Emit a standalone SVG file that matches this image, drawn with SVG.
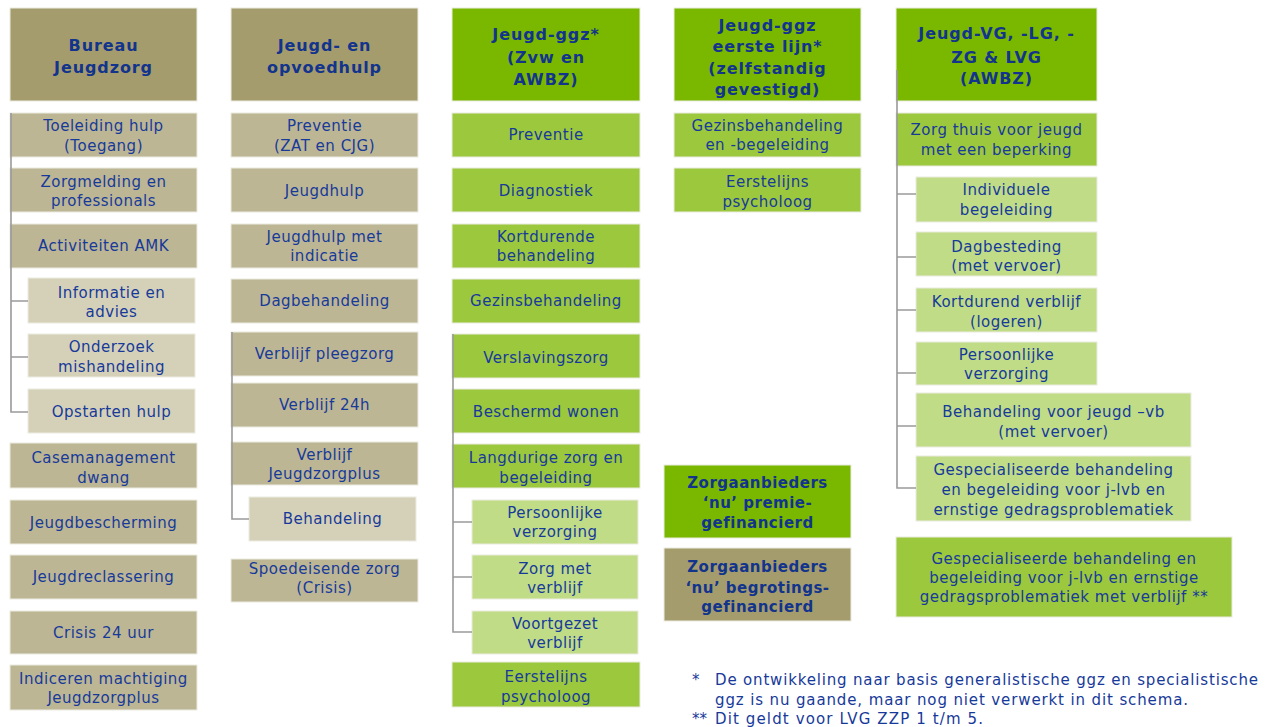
<svg xmlns="http://www.w3.org/2000/svg" width="1273" height="727" viewBox="0 0 1273 727">
<style>
text{font-family:"DejaVu Sans",Verdana,sans-serif;fill:#173a9a;text-anchor:middle;dominant-baseline:central}
.t{font-size:15px;letter-spacing:0.5px}
.h{font-size:16px;font-weight:bold;letter-spacing:0.9px;fill:#12348c}
.lb{font-size:15px;font-weight:bold;letter-spacing:0.5px;fill:#12348c}
.fn{font-size:15px;text-anchor:start}
.hk{fill:#a59c6d}.ik{fill:#bdb694}.sk{fill:#d5d1b9}
.hg{fill:#7ab800}.ig{fill:#9cc83e}.sg{fill:#c0dc87}
rect{stroke:#ecebe2;stroke-width:1}
.c{stroke:#9a9a9a;stroke-width:1.6;fill:none}
</style>
<rect width="1273" height="727" fill="#ffffff" style="stroke:none"/>

<!-- Column 1 -->
<g id="bureau-jeugdzorg"><rect class="hk" x="10" y="8" width="187" height="93"/><text class="h" x="103.5" y="45">Bureau</text><text class="h" x="103.5" y="67">Jeugdzorg</text></g>
<g id="toeleiding"><rect class="ik" x="10" y="113" width="187" height="44"/><text class="t" x="103.5" y="126">Toeleiding hulp</text><text class="t" x="103.5" y="146">(Toegang)</text></g>
<g id="zorgmelding"><rect class="ik" x="10" y="168" width="187" height="44"/><text class="t" x="103.5" y="182">Zorgmelding en</text><text class="t" x="103.5" y="201">professionals</text></g>
<g id="amk"><rect class="ik" x="10" y="224" width="187" height="44"/><text class="t" x="103.5" y="246">Activiteiten AMK</text></g>
<g id="informatie"><rect class="sk" x="28" y="278" width="167" height="45"/><text class="t" x="111.5" y="293">Informatie en</text><text class="t" x="111.5" y="312">advies</text></g>
<g id="onderzoek"><rect class="sk" x="28" y="334" width="167" height="43"/><text class="t" x="111.5" y="347">Onderzoek</text><text class="t" x="111.5" y="367">mishandeling</text></g>
<g id="opstarten"><rect class="sk" x="28" y="389" width="167" height="44"/><text class="t" x="111.5" y="412">Opstarten hulp</text></g>
<g id="casemanagement"><rect class="ik" x="10" y="443" width="187" height="45"/><text class="t" x="103.5" y="458">Casemanagement</text><text class="t" x="103.5" y="478">dwang</text></g>
<g id="jeugdbescherming"><rect class="ik" x="10" y="500" width="187" height="44"/><text class="t" x="103.5" y="523">Jeugdbescherming</text></g>
<g id="jeugdreclassering"><rect class="ik" x="10" y="555" width="187" height="44"/><text class="t" x="103.5" y="577">Jeugdreclassering</text></g>
<g id="crisis24"><rect class="ik" x="10" y="611" width="187" height="43"/><text class="t" x="103.5" y="633">Crisis 24 uur</text></g>
<g id="indiceren"><rect class="ik" x="10" y="665" width="187" height="45"/><text class="t" x="103.5" y="679">Indiceren machtiging</text><text class="t" x="103.5" y="698">Jeugdzorgplus</text></g>

<!-- Column 2 -->
<g id="jeugd-opvoedhulp"><rect class="hk" x="231" y="8" width="187" height="93"/><text class="h" x="324.5" y="45">Jeugd- en</text><text class="h" x="324.5" y="67">opvoedhulp</text></g>
<g id="preventie-zat"><rect class="ik" x="231" y="113" width="187" height="44"/><text class="t" x="324.5" y="126">Preventie</text><text class="t" x="324.5" y="146">(ZAT en CJG)</text></g>
<g id="jeugdhulp"><rect class="ik" x="231" y="168" width="187" height="44"/><text class="t" x="324.5" y="191">Jeugdhulp</text></g>
<g id="jeugdhulp-indicatie"><rect class="ik" x="231" y="224" width="187" height="44"/><text class="t" x="324.5" y="237">Jeugdhulp met</text><text class="t" x="324.5" y="256">indicatie</text></g>
<g id="dagbehandeling"><rect class="ik" x="231" y="279" width="187" height="44"/><text class="t" x="324.5" y="301">Dagbehandeling</text></g>
<g id="pleegzorg"><rect class="ik" x="231" y="332" width="187" height="44"/><text class="t" x="324.5" y="354">Verblijf pleegzorg</text></g>
<g id="verblijf24"><rect class="ik" x="231" y="383" width="187" height="44"/><text class="t" x="324.5" y="405">Verblijf 24h</text></g>
<g id="verblijf-jzp"><rect class="ik" x="231" y="442" width="187" height="43"/><text class="t" x="324.5" y="455">Verblijf</text><text class="t" x="324.5" y="474">Jeugdzorgplus</text></g>
<g id="behandeling-jzp"><rect class="sk" x="249" y="497" width="167" height="44"/><text class="t" x="332.5" y="519">Behandeling</text></g>
<g id="spoedeisend"><rect class="ik" x="231" y="559" width="187" height="43"/><text class="t" x="324.5" y="569">Spoedeisende zorg</text><text class="t" x="324.5" y="588">(Crisis)</text></g>

<!-- Column 3 -->
<g id="jeugd-ggz"><rect class="hg" x="452" y="8" width="188" height="93"/><text class="h" x="546" y="34">Jeugd-ggz*</text><text class="h" x="546" y="57">(Zvw en</text><text class="h" x="546" y="79">AWBZ)</text></g>
<g id="ggz-preventie"><rect class="ig" x="452" y="113" width="188" height="44"/><text class="t" x="546" y="135">Preventie</text></g>
<g id="diagnostiek"><rect class="ig" x="452" y="168" width="188" height="44"/><text class="t" x="546" y="191">Diagnostiek</text></g>
<g id="kortdurende"><rect class="ig" x="452" y="224" width="188" height="44"/><text class="t" x="546" y="237">Kortdurende</text><text class="t" x="546" y="256">behandeling</text></g>
<g id="gezinsbehandeling"><rect class="ig" x="452" y="279" width="188" height="44"/><text class="t" x="546" y="301">Gezinsbehandeling</text></g>
<g id="verslavingszorg"><rect class="ig" x="452" y="334" width="188" height="44"/><text class="t" x="546" y="358">Verslavingszorg</text></g>
<g id="beschermd-wonen"><rect class="ig" x="452" y="389" width="188" height="44"/><text class="t" x="546" y="412">Beschermd wonen</text></g>
<g id="langdurige"><rect class="ig" x="452" y="444" width="188" height="44"/><text class="t" x="546" y="458">Langdurige zorg en</text><text class="t" x="546" y="478">begeleiding</text></g>
<g id="ggz-persoonlijke"><rect class="sg" x="472" y="500" width="166" height="44"/><text class="t" x="555" y="513">Persoonlijke</text><text class="t" x="555" y="532">verzorging</text></g>
<g id="zorg-verblijf"><rect class="sg" x="472" y="555" width="166" height="44"/><text class="t" x="555" y="569">Zorg met</text><text class="t" x="555" y="588">verblijf</text></g>
<g id="voortgezet"><rect class="sg" x="472" y="611" width="166" height="43"/><text class="t" x="555" y="624">Voortgezet</text><text class="t" x="555" y="643">verblijf</text></g>
<g id="ggz-eerstelijns"><rect class="ig" x="452" y="662" width="188" height="45"/><text class="t" x="546" y="677">Eerstelijns</text><text class="t" x="546" y="697">psycholoog</text></g>

<!-- Column 4 -->
<g id="ggz-eerste-lijn"><rect class="hg" x="674" y="8" width="187" height="93"/><text class="h" x="767.5" y="25">Jeugd-ggz</text><text class="h" x="767.5" y="46">eerste lijn*</text><text class="h" x="767.5" y="68">(zelfstandig</text><text class="h" x="767.5" y="89">gevestigd)</text></g>
<g id="gezins-begeleiding"><rect class="ig" x="674" y="113" width="187" height="44"/><text class="t" x="767.5" y="126">Gezinsbehandeling</text><text class="t" x="767.5" y="145">en -begeleiding</text></g>
<g id="eerstelijns-psycholoog"><rect class="ig" x="674" y="168" width="187" height="44"/><text class="t" x="767.5" y="182">Eerstelijns</text><text class="t" x="767.5" y="202">psycholoog</text></g>

<!-- Legend -->
<g id="legend-premie"><rect class="hg" x="664" y="465" width="187" height="73"/><text class="lb" x="757.5" y="483">Zorgaanbieders</text><text class="lb" x="757.5" y="503">‘nu’ premie-</text><text class="lb" x="757.5" y="523">gefinancierd</text></g>
<g id="legend-begroting"><rect class="hk" x="664" y="548" width="187" height="73"/><text class="lb" x="757.5" y="567">Zorgaanbieders</text><text class="lb" x="757.5" y="588">‘nu’ begrotings-</text><text class="lb" x="757.5" y="607">gefinancierd</text></g>

<!-- Column 5 -->
<g id="jeugd-vg"><rect class="hg" x="896" y="8" width="201" height="93"/><text class="h" x="996.5" y="33">Jeugd-VG, -LG, -</text><text class="h" x="996.5" y="57">ZG &amp; LVG</text><text class="h" x="996.5" y="78">(AWBZ)</text></g>
<g id="zorg-thuis"><rect class="ig" x="896" y="113" width="201" height="53"/><text class="t" x="996.5" y="130">Zorg thuis voor jeugd</text><text class="t" x="996.5" y="150">met een beperking</text></g>
<g id="individuele"><rect class="sg" x="916" y="177" width="181" height="45"/><text class="t" x="1006.5" y="190">Individuele</text><text class="t" x="1006.5" y="210">begeleiding</text></g>
<g id="dagbesteding"><rect class="sg" x="916" y="232" width="181" height="44"/><text class="t" x="1006.5" y="247">Dagbesteding</text><text class="t" x="1006.5" y="266">(met vervoer)</text></g>
<g id="kortdurend-verblijf"><rect class="sg" x="916" y="288" width="181" height="44"/><text class="t" x="1006.5" y="302">Kortdurend verblijf</text><text class="t" x="1006.5" y="322">(logeren)</text></g>
<g id="vg-persoonlijke"><rect class="sg" x="916" y="342" width="181" height="43"/><text class="t" x="1006.5" y="355">Persoonlijke</text><text class="t" x="1006.5" y="374">verzorging</text></g>
<g id="behandeling-vb"><rect class="sg" x="916" y="393" width="275" height="54"/><text class="t" x="1053.5" y="412">Behandeling voor jeugd –vb</text><text class="t" x="1053.5" y="432">(met vervoer)</text></g>
<g id="gespecialiseerd"><rect class="sg" x="916" y="456" width="275" height="65"/><text class="t" x="1053.5" y="470">Gespecialiseerde behandeling</text><text class="t" x="1053.5" y="490">en begeleiding voor j-lvb en</text><text class="t" x="1053.5" y="510">ernstige gedragsproblematiek</text></g>
<g id="gespecialiseerd-verblijf"><rect class="ig" x="896" y="537" width="336" height="80"/><text class="t" x="1064" y="559">Gespecialiseerde behandeling en</text><text class="t" x="1064" y="578">begeleiding voor j-lvb en ernstige</text><text class="t" x="1064" y="597">gedragsproblematiek met verblijf **</text></g>

<!-- Connectors -->
<g id="connectors">
<path class="c" d="M11 113V412H28M11 301H28M11 357H28"/>
<path class="c" d="M232 332V519H249"/>
<path class="c" d="M453 334V632H472M453 522H472M453 577H472"/>
<path class="c" d="M897 70V488H916M897 194H916M897 257H916M897 310H916M897 373H916M897 426H916"/>
</g>

<!-- Footnotes -->
<g id="footnotes">
<text class="fn" x="692" y="680">*</text>
<text class="fn" x="715" y="680" textLength="543" lengthAdjust="spacing">De ontwikkeling naar basis generalistische ggz en specialistische</text>
<text class="fn" x="715" y="700" textLength="473" lengthAdjust="spacing">ggz is nu gaande, maar nog niet verwerkt in dit schema.</text>
<text class="fn" x="692" y="719">**</text>
<text class="fn" x="715" y="719" textLength="268" lengthAdjust="spacing">Dit geldt voor LVG ZZP 1 t/m 5.</text>
</g>
</svg>
